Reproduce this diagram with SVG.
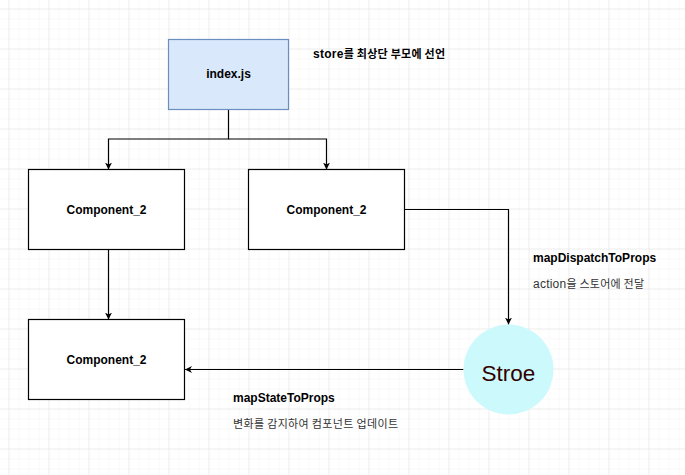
<svg xmlns="http://www.w3.org/2000/svg" width="685" height="475" viewBox="0 0 685 475">
<defs>
<pattern id="minor" x="8.5" y="8.5" width="10" height="10" patternUnits="userSpaceOnUse">
<path d="M0 0H10M0 0V10" fill="none" stroke="#f3f3f3" stroke-width="1"/>
</pattern>
<pattern id="major" x="8.5" y="8.5" width="40" height="40" patternUnits="userSpaceOnUse">
<path d="M0 0H40M0 0V40" fill="none" stroke="#e4e4e4" stroke-width="1"/>
</pattern>
<marker id="arr" viewBox="0 0 10 10" refX="10" refY="5" markerWidth="7" markerHeight="7" orient="auto" markerUnits="userSpaceOnUse">
<path d="M0 0L10 5L0 10L3 5Z" fill="#000"/>
</marker>
</defs>
<style>
.box{fill:#fff;stroke:#000;stroke-width:1.2}
.t{font-family:"Liberation Sans",Arial,"Noto Sans CJK KR",sans-serif;font-size:12px;font-weight:bold;fill:#000}
.ln{font-family:"Liberation Sans",Arial,"Noto Sans CJK KR",sans-serif;font-size:12px;fill:#333}
.ko{font-family:"Noto Sans CJK KR",sans-serif;font-size:11px}
.edge{fill:none;stroke:#000;stroke-width:1.2}
</style>
<rect width="685" height="475" fill="#fff"/>
<rect width="685" height="475" fill="url(#minor)"/>
<rect width="685" height="475" fill="url(#major)"/>

<g id="connectors">
<path class="edge" d="M228.5 109.5V139H108.5V169.5" marker-end="url(#arr)"/>
<path class="edge" d="M228.5 139H326.5V169.5" marker-end="url(#arr)"/>
<path class="edge" d="M404.5 209.5H508.5V324.5" marker-end="url(#arr)"/>
<path class="edge" d="M108.5 249.5V319.5" marker-end="url(#arr)"/>
<path class="edge" d="M463.5 369.5H185" marker-end="url(#arr)"/>
</g>

<g id="index">
<rect x="168.5" y="39.5" width="120" height="70" fill="#dae8fc" stroke="#6c8ebf" stroke-width="1.2"/>
<text class="t" x="228.5" y="78" text-anchor="middle">index.js</text>
</g>
<g id="note-store">
<text class="t" x="313" y="58" textLength="132" lengthAdjust="spacing">store<tspan class="ko">를 최상단 부모에 선언</tspan></text>
</g>
<g id="comp-a">
<rect class="box" x="28.5" y="169.5" width="156" height="80"/>
<text class="t" x="106.5" y="214" text-anchor="middle">Component_2</text>
</g>
<g id="comp-b">
<rect class="box" x="248.5" y="169.5" width="156" height="80"/>
<text class="t" x="326.5" y="214" text-anchor="middle">Component_2</text>
</g>
<g id="comp-c">
<rect class="box" x="28.5" y="319.5" width="156" height="80"/>
<text class="t" x="106.5" y="364" text-anchor="middle">Component_2</text>
</g>
<g id="store">
<circle cx="508.5" cy="369.5" r="45" fill="#ccf9fb"/>
<text x="508.5" y="381" text-anchor="middle" font-family="'Liberation Sans',Arial,sans-serif" font-size="22.5" fill="#330000">Stroe</text>
</g>
<g id="label-dispatch">
<text class="t" x="533" y="262">mapDispatchToProps</text>
<text class="ln" x="533" y="288" textLength="111" lengthAdjust="spacing">action<tspan class="ko">을 스토어에 전달</tspan></text>
</g>
<g id="label-state">
<text class="t" x="233" y="402">mapStateToProps</text>
<text class="ln" x="233" y="428" textLength="165" lengthAdjust="spacing"><tspan class="ko">변화를 감지하여 컴포넌트 업데이트</tspan></text>
</g>
</svg>
